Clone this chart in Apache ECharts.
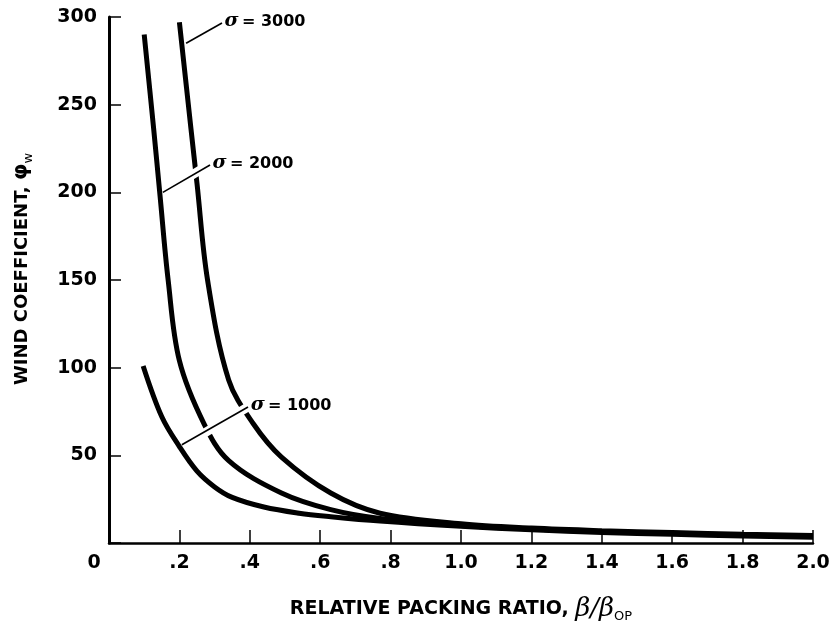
<!DOCTYPE html>
<html>
<head>
<meta charset="utf-8">
<script src="https://cdn.jsdelivr.net/npm/echarts@6/dist/echarts.min.js"></script>
<style>
html, body { margin: 0; padding: 0; background: #fff; }
#chart { width: 839px; height: 628px; }
</style>
</head>
<body>
<div id="chart"></div>
<script>
// values: relative packing ratio vs wind coefficient
var ratio1000 = [0.097, 0.15, 0.20, 0.25, 0.30, 0.35, 0.44, 0.54, 0.63, 0.77, 1.0, 1.2, 1.4, 1.6, 1.8, 2.0];
var phi1000   = [101, 72, 55, 41, 32, 26, 20.5, 17, 15, 12.5, 9.5, 7.5, 6, 5, 4, 3.3];

var ratio2000 = [0.10, 0.127, 0.145, 0.168, 0.20, 0.27, 0.34, 0.49, 0.63, 0.77, 1.0, 1.2, 1.4, 1.6, 1.8, 2.0];
var phi2000   = [290, 236, 198, 150, 104, 68, 47, 28.5, 19, 14, 10, 8, 6.5, 5.5, 4.5, 3.8];

var ratio3000 = [0.20, 0.233, 0.25, 0.28, 0.34, 0.41, 0.49, 0.63, 0.77, 1.0, 1.2, 1.4, 1.6, 1.8, 2.0];
var phi3000   = [297, 236, 205, 150, 93, 68, 49, 28.5, 17, 11, 8.5, 7, 6, 5, 4.3];

var xTicks = [0, 0.2, 0.4, 0.6, 0.8, 1.0, 1.2, 1.4, 1.6, 1.8, 2.0];
var yTicks = [0, 50, 100, 150, 200, 250, 300];

// leader lines for the curve labels (data coords), and the white gaps they cut
var leaderNames = ["3000", "2000", "1000"];
var leaderFrom  = [[0.219, 285], [0.153, 200], [0.207, 56]];
var leaderTo    = [[0.321, 296.6], [0.287, 215.6], [0.395, 77.6]];
var gapFrom     = [null, [0.216, 207.5], [0.253, 60.5]];
var gapTo       = [null, [0.273, 214.4], [0.395, 77.6]];

var FONT = "DejaVu Sans";

function pairs(xs, ys) {
    return xs.map(function (x, i) { return [x, ys[i]]; });
}

function curve(name, xs, ys) {
    return {
        name: name,
        type: "line",
        data: pairs(xs, ys),
        smooth: 0.35,
        showSymbol: false,
        animation: false,
        lineStyle: { color: "#000", width: 5 },
        z: 3
    };
}

var marks = [];
for (var i = 0; i < leaderNames.length; i++) {
    if (gapFrom[i]) {
        marks.push([
            { coord: gapFrom[i], lineStyle: { color: "#fff", width: 9, type: "solid" }, label: { show: false } },
            { coord: gapTo[i] }
        ]);
    }
}
for (var j = 0; j < leaderNames.length; j++) {
    marks.push([
        {
            coord: leaderFrom[j],
            lineStyle: { color: "#000", width: 1.6, type: "solid" },
            label: {
                show: true,
                position: "end",
                distance: 3,
                formatter: "{g|\u03c3} {t|= " + leaderNames[j] + "}",
                rich: {
                    g: { fontFamily: "DejaVu Serif", fontStyle: "italic", fontWeight: "bold", fontSize: 19, color: "#000" },
                    t: { fontFamily: FONT, fontWeight: "bold", fontSize: 16, color: "#000" }
                }
            }
        },
        { coord: leaderTo[j] }
    ]);
}

var chart = echarts.init(document.getElementById("chart"));
var option = {
    backgroundColor: "#fff",
    animation: false,
    grid: { left: 109, right: 26, top: 17, bottom: 85 },
    xAxis: {
        type: "value",
        min: xTicks[0],
        max: xTicks[xTicks.length - 1],
        interval: 0.2,
        name: "{b|RELATIVE PACKING RATIO, }{g|\u03b2/\u03b2}{s|OP}",
        nameLocation: "middle",
        nameGap: 52,
        nameTextStyle: {
            rich: {
                b: { fontFamily: FONT, fontWeight: "bold", fontSize: 19, color: "#000", lineHeight: 28 },
                g: { fontFamily: "DejaVu Serif", fontStyle: "italic", fontSize: 26, color: "#000", lineHeight: 28 },
                s: { fontFamily: FONT, fontSize: 13, color: "#000", verticalAlign: "bottom", lineHeight: 28, padding: [14, 0, 0, 0] }
            }
        },
        axisLine: { show: true, lineStyle: { color: "#000", width: 2.5 } },
        axisTick: { show: true, inside: true, length: 13, lineStyle: { color: "#000", width: 1.5 } },
        splitLine: { show: false },
        axisLabel: {
            margin: 11,
            color: "#000",
            fontFamily: FONT,
            fontWeight: "bold",
            fontSize: 19,
            formatter: function (v) {
                var r = Math.round(v * 10) / 10;
                if (r === 0) return "{z|0}";
                if (r < 1) return "." + Math.round(r * 10);
                return r.toFixed(1);
            },
            rich: {
                z: { fontFamily: FONT, fontWeight: "bold", fontSize: 19, color: "#000", padding: [0, 30, 0, 0] }
            }
        }
    },
    yAxis: {
        type: "value",
        min: yTicks[0],
        max: yTicks[yTicks.length - 1],
        interval: 50,
        name: "{b|WIND COEFFICIENT, }{g|\u03c6}{s|w}",
        nameLocation: "middle",
        nameGap: 74,
        nameTextStyle: {
            padding: [0, 0, 0, 22],
            rich: {
                b: { fontFamily: FONT, fontWeight: "bold", fontSize: 18, color: "#000", lineHeight: 26 },
                g: { fontFamily: FONT, fontWeight: "bold", fontSize: 21, color: "#000", lineHeight: 26 },
                s: { fontFamily: FONT, fontSize: 13, color: "#000", verticalAlign: "bottom", lineHeight: 26, padding: [12, 0, 0, 0] }
            }
        },
        axisLine: { show: true, lineStyle: { color: "#000", width: 3 } },
        axisTick: { show: true, inside: true, length: 12, lineStyle: { color: "#000", width: 1.5 } },
        splitLine: { show: false },
        axisLabel: {
            margin: 12,
            color: "#000",
            fontFamily: FONT,
            fontWeight: "bold",
            fontSize: 19,
            formatter: function (v) { return v === 0 ? "" : String(v); }
        }
    },
    series: [
        curve("\u03c3 = 1000", ratio1000, phi1000),
        curve("\u03c3 = 2000", ratio2000, phi2000),
        curve("\u03c3 = 3000", ratio3000, phi3000),
        {
            name: "labels",
            type: "line",
            data: [],
            z: 6,
            animation: false,
            markLine: {
                silent: true,
                animation: false,
                symbol: ["none", "none"],
                data: marks
            }
        }
    ]
};
chart.setOption(option);
</script>
</body>
</html>
